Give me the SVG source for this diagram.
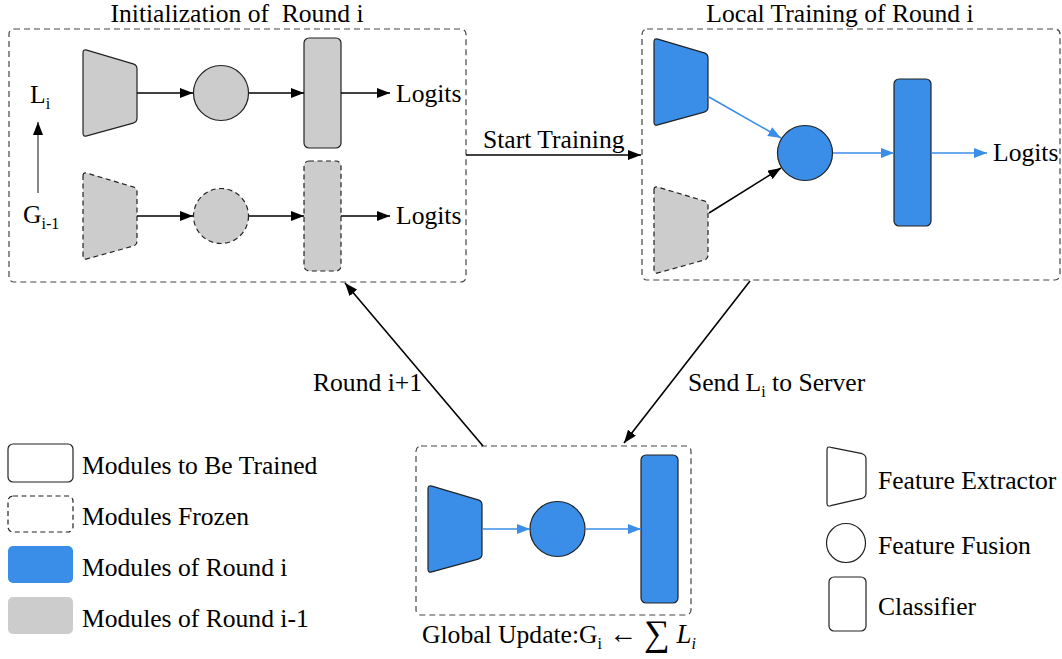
<svg xmlns="http://www.w3.org/2000/svg" xmlns:xlink="http://www.w3.org/1999/xlink" width="1062" height="659" viewBox="0 0 1062 659">
<style>
text{font-family:'Times New Roman','Liberation Serif','DejaVu Serif',serif;font-size:25.6px;fill:#000}
.sub{font-size:16px}
.box{fill:none;stroke:#444;stroke-width:1.2;stroke-dasharray:6 4}
.blue{fill:#3a8ee8;stroke:#222;stroke-width:1.2}
.grey{fill:#cccccc;stroke:#222;stroke-width:1.2}
.dash{stroke-dasharray:5 3.5}
.leg{fill:none;stroke:#222;stroke-width:1.2}
.ab{stroke:#000;stroke-width:1.6;fill:none}
.abl{stroke:#3a8ee8;stroke-width:1.6;fill:none}
</style>
<defs>
<path id="trap" d="M0,4 Q0,0 3.8,1.1 L50.2,14.9 Q54,16 54,20 L54,69 Q54,73 50.2,74.1 L3.8,86.9 Q0,88 0,84 Z"/>
<marker id="mk" markerUnits="userSpaceOnUse" markerWidth="14" markerHeight="10" refX="13" refY="5" orient="auto"><path d="M0,0 L13,5 L0,10 Z" fill="#000"/></marker>
<marker id="mkb" markerUnits="userSpaceOnUse" markerWidth="14" markerHeight="10" refX="13" refY="5" orient="auto"><path d="M0,0 L13,5 L0,10 Z" fill="#3a8ee8"/></marker>
</defs>

<g id="init-box">
<rect class="box" x="9" y="29" width="457" height="253" rx="5"/>
<text x="237" y="22" text-anchor="middle" xml:space="preserve">Initialization of  Round i</text>
</g>
<g id="init-fe-L"><use xlink:href="#trap" href="#trap" x="83" y="49" class="grey"/></g>
<g id="init-ff-L"><circle class="grey" cx="221" cy="93" r="27.5"/></g>
<g id="init-cl-L"><rect class="grey" x="304" y="38" width="37" height="110" rx="5"/></g>
<g id="init-fe-G"><use xlink:href="#trap" href="#trap" x="83" y="172" class="grey dash"/></g>
<g id="init-ff-G"><circle class="grey dash" cx="221" cy="216" r="27.5"/></g>
<g id="init-cl-G"><rect class="grey dash" x="304" y="161" width="37" height="110" rx="5"/></g>
<g id="init-labels">
<text x="396" y="102">Logits</text>
<text x="396" y="224">Logits</text>
<text x="30" y="103">L<tspan class="sub" dy="6">i</tspan></text>
<text x="23" y="223">G<tspan class="sub" dy="6">i-1</tspan></text>
</g>

<g id="train-box">
<rect class="box" x="642" y="29" width="418" height="251" rx="5"/>
<text x="840" y="22" text-anchor="middle">Local Training of Round i</text>
</g>
<g id="train-fe-L"><use xlink:href="#trap" href="#trap" x="654" y="38" class="blue"/></g>
<g id="train-fe-G"><use xlink:href="#trap" href="#trap" x="654" y="186" class="grey dash"/></g>
<g id="train-ff"><circle class="blue" cx="805" cy="153" r="27.5"/></g>
<g id="train-cl"><rect class="blue" x="894" y="79" width="37" height="147" rx="5"/></g>
<g id="train-labels"><text x="993" y="161">Logits</text></g>

<g id="global-box">
<rect class="box" x="416" y="446" width="275" height="169" rx="5"/>
<text x="422" y="643">Global Update:G<tspan class="sub" dy="6">i</tspan><tspan dy="-6" style="font-size:28px"> ← </tspan><tspan style="font-size:36px" dy="2">∑</tspan><tspan font-style="italic" dy="-2" style="font-size:27px"> L</tspan><tspan class="sub" font-style="italic" dy="6">i</tspan></text>
</g>
<g id="global-fe"><use xlink:href="#trap" href="#trap" x="428" y="485" class="blue"/></g>
<g id="global-ff"><circle class="blue" cx="557.5" cy="529" r="27.5"/></g>
<g id="global-cl"><rect class="blue" x="641" y="455" width="37" height="148" rx="5"/></g>

<g id="connectors">
<line class="ab" x1="137" y1="93" x2="193" y2="93" marker-end="url(#mk)"/>
<line class="ab" x1="249" y1="93" x2="304" y2="93" marker-end="url(#mk)"/>
<line class="ab" x1="341" y1="93" x2="390" y2="93" marker-end="url(#mk)"/>
<line class="ab" x1="137" y1="216" x2="193" y2="216" marker-end="url(#mk)"/>
<line class="ab" x1="249" y1="216" x2="304" y2="216" marker-end="url(#mk)"/>
<line class="ab" x1="341" y1="216" x2="390" y2="216" marker-end="url(#mk)"/>
<line x1="38" y1="193" x2="38" y2="122" stroke="#555" stroke-width="1.4" marker-end="url(#mk)"/>
<line class="abl" x1="709" y1="97" x2="781" y2="138" marker-end="url(#mkb)"/>
<line class="ab" x1="709" y1="213" x2="781" y2="168" marker-end="url(#mk)"/>
<line class="abl" x1="833" y1="153" x2="894" y2="153" marker-end="url(#mkb)"/>
<line class="abl" x1="931" y1="153" x2="987" y2="153" marker-end="url(#mkb)"/>
<line class="abl" x1="483" y1="529" x2="530" y2="529" marker-end="url(#mkb)"/>
<line class="abl" x1="585" y1="529" x2="641" y2="529" marker-end="url(#mkb)"/>
<line class="ab" x1="466" y1="155" x2="641" y2="155" marker-end="url(#mk)"/>
<line class="ab" x1="483" y1="446" x2="345" y2="283" marker-end="url(#mk)"/>
<line class="ab" x1="750" y1="281" x2="624" y2="443" marker-end="url(#mk)"/>
<text x="483" y="148">Start Training</text>
<text x="313" y="391">Round i+1</text>
<text x="688" y="391">Send L<tspan class="sub" dy="6">i</tspan><tspan dy="-6"> to Server</tspan></text>
</g>

<g id="legend-left">
<rect class="leg" x="8" y="444" width="65" height="38" rx="5"/>
<text x="82" y="474">Modules to Be Trained</text>
<rect class="leg dash" x="8" y="496" width="65" height="36" rx="5"/>
<text x="82" y="525">Modules Frozen</text>
<rect x="8" y="546" width="65" height="37" rx="5" fill="#3a8ee8"/>
<text x="82" y="576">Modules of Round i</text>
<rect x="8" y="597" width="65" height="37" rx="5" fill="#cccccc"/>
<text x="82" y="627">Modules of Round i-1</text>
</g>

<g id="legend-right">
<path class="leg" d="M827,450 Q827,446 830.8,447.3 L862.2,453.7 Q866,455 866,459 L866,493 Q866,497 862.2,498.3 L830.8,505.7 Q827,507 827,503 Z"/>
<text x="878" y="489">Feature Extractor</text>
<circle class="leg" cx="846" cy="543" r="19.5"/>
<text x="878" y="554">Feature Fusion</text>
<rect class="leg" x="829" y="577" width="37" height="54" rx="5"/>
<text x="878" y="615">Classifier</text>
</g>
</svg>
